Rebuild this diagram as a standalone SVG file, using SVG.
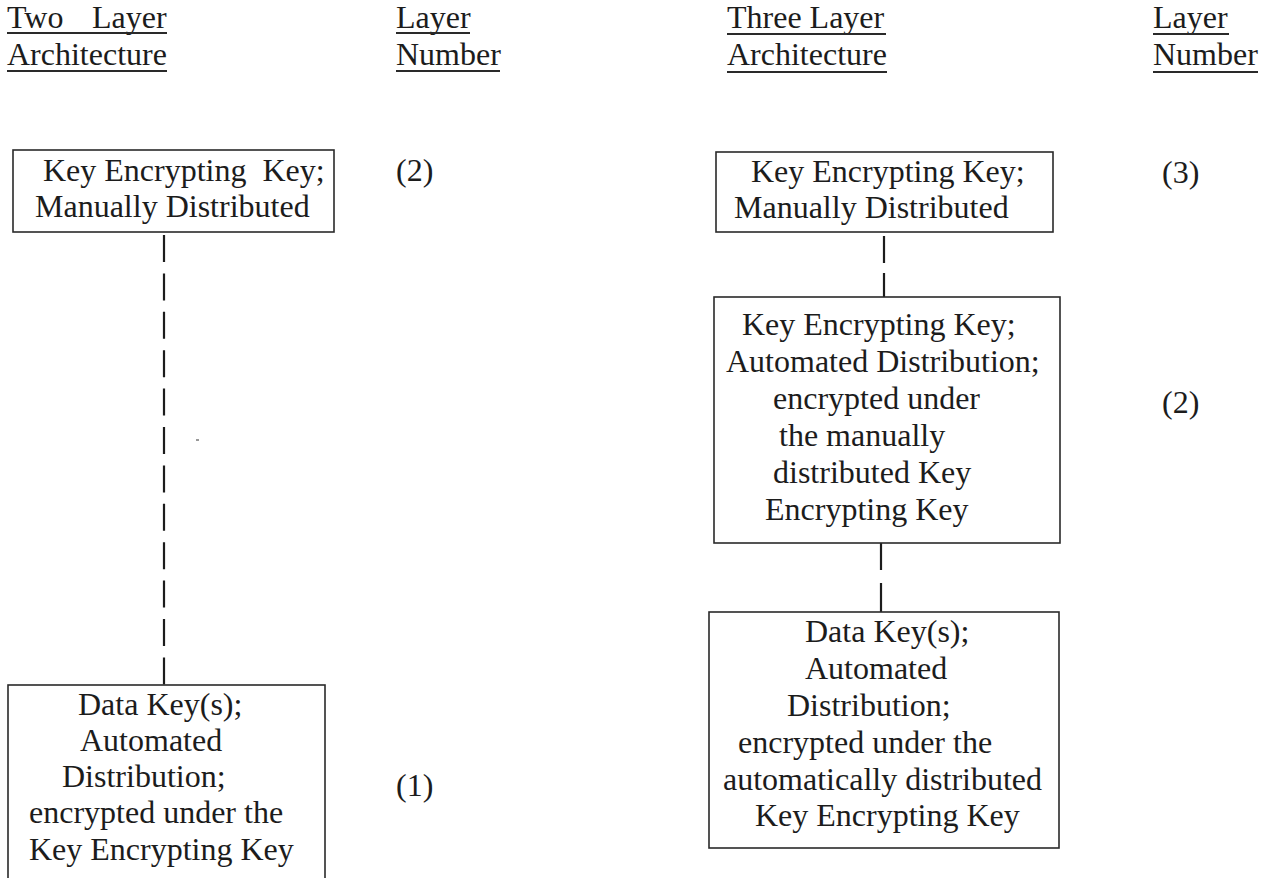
<svg xmlns="http://www.w3.org/2000/svg" width="1269" height="878" viewBox="0 0 1269 878">
  <style>
    text { font-family: "Liberation Serif", "Times New Roman", serif; font-size: 32px; fill: #1c1c1c; }
    .box { fill: #ffffff; stroke: #2a2a2a; stroke-width: 1.6; }
    .rule { stroke: #2a2a2a; stroke-width: 2; }
    .link { stroke: #1c1c1c; stroke-width: 2.2; fill: none; }
    .dash { stroke-dasharray: 27 11.4; }
  </style>
  <rect x="0" y="0" width="1269" height="878" fill="#ffffff"/>

  <!-- column headings -->
  <g id="headings">
    <text x="7" y="28">Two</text>
    <text x="92" y="28">Layer</text>
    <text x="7" y="65">Architecture</text>
    <line class="rule" x1="7" y1="33" x2="167" y2="33"/>
    <line class="rule" x1="7" y1="71" x2="167" y2="71"/>

    <text x="396" y="28">Layer</text>
    <text x="396" y="65">Number</text>
    <line class="rule" x1="396" y1="33" x2="470" y2="33"/>
    <line class="rule" x1="396" y1="71" x2="500" y2="71"/>

    <text x="727" y="28">Three Layer</text>
    <text x="727" y="65">Architecture</text>
    <line class="rule" x1="727" y1="34" x2="886" y2="34"/>
    <line class="rule" x1="727" y1="72" x2="887" y2="72"/>

    <text x="1153" y="28">Layer</text>
    <text x="1153" y="65">Number</text>
    <line class="rule" x1="1153" y1="34" x2="1229" y2="34"/>
    <line class="rule" x1="1153" y1="72" x2="1258" y2="72"/>
  </g>

  <!-- connectors between key layers -->
  <g id="connectors">
    <line class="link dash" x1="164" y1="235" x2="164" y2="685"/>
    <line class="link" x1="884" y1="236" x2="884" y2="263"/>
    <line class="link" x1="884" y1="273" x2="884" y2="297"/>
    <line class="link" x1="881" y1="543" x2="881" y2="570"/>
    <line class="link" x1="881" y1="583" x2="881" y2="612"/>
    <line x1="196" y1="440" x2="199" y2="440" stroke="#777" stroke-width="1.5"/>
  </g>

  <!-- two layer architecture -->
  <g id="two-kek">
    <rect class="box" x="13" y="150" width="321" height="82"/>
    <text x="43" y="181" xml:space="preserve">Key Encrypting  Key;</text>
    <text x="35" y="217">Manually Distributed</text>
  </g>
  <g id="two-data">
    <rect class="box" x="8" y="685" width="317" height="210"/>
    <text x="78" y="715">Data Key(s);</text>
    <text x="80" y="751">Automated</text>
    <text x="62" y="787">Distribution;</text>
    <text x="29" y="823">encrypted under the</text>
    <text x="29" y="860">Key Encrypting Key</text>
  </g>
  <g id="two-numbers">
    <text x="396" y="181">(2)</text>
    <text x="396" y="796">(1)</text>
  </g>

  <!-- three layer architecture -->
  <g id="three-kek-manual">
    <rect class="box" x="716" y="152" width="337" height="80"/>
    <text x="751" y="182">Key Encrypting Key;</text>
    <text x="734" y="218">Manually Distributed</text>
  </g>
  <g id="three-kek-auto">
    <rect class="box" x="714" y="297" width="346" height="246"/>
    <text x="742" y="335">Key Encrypting Key;</text>
    <text x="726" y="372">Automated Distribution;</text>
    <text x="773" y="409">encrypted under</text>
    <text x="779" y="446">the manually</text>
    <text x="773" y="483">distributed Key</text>
    <text x="765" y="520">Encrypting Key</text>
  </g>
  <g id="three-data">
    <rect class="box" x="709" y="612" width="350" height="236"/>
    <text x="805" y="642">Data Key(s);</text>
    <text x="805" y="679">Automated</text>
    <text x="787" y="716">Distribution;</text>
    <text x="738" y="753">encrypted under the</text>
    <text x="723" y="790">automatically distributed</text>
    <text x="755" y="826">Key Encrypting Key</text>
  </g>
  <g id="three-numbers">
    <text x="1162" y="183">(3)</text>
    <text x="1162" y="413">(2)</text>
  </g>
</svg>
